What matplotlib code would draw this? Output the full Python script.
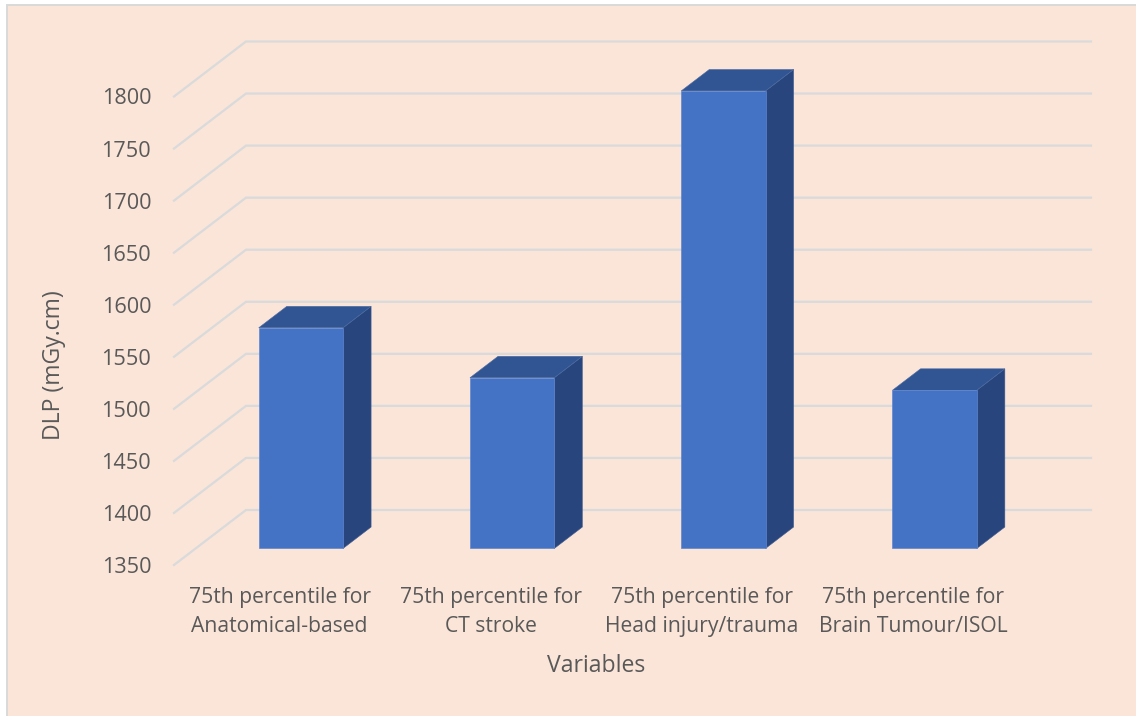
import matplotlib
matplotlib.use("Agg")
import matplotlib.pyplot as plt
from matplotlib.patches import Rectangle

categories = ["75th percentile for\nAnatomical-based", "75th percentile for\nCT stroke",
              "75th percentile for\nHead injury/trauma", "75th percentile for\nBrain Tumour/ISOL"]
dlp_values = [1562, 1514, 1789.5, 1502]
y_ticks = [1350, 1400, 1450, 1500, 1550, 1600, 1650, 1700, 1750, 1800]

W, H = 1136, 716
TEXT = "#595959"
GRID = "#D9DADB"

plt.rcParams["font.family"] = ["Open Sans", "DejaVu Sans"]

fig = plt.figure(figsize=(W / 100, H / 100), dpi=100, facecolor="white")
fig.add_artist(Rectangle((7 / W, -0.01), 1.01, 1 - 5 / H + 0.01, transform=fig.transFigure,
                         facecolor="#FBE5D8", edgecolor="#D9D9D9", linewidth=1.4, zorder=-1))

# axes = front plane of the fake 3d box
ax = fig.add_axes([174 / W, 1 - 565 / H, 845 / W, 468.5 / H])
ax.set_xlim(-0.5, 3.5)
ax.set_ylim(1350, 1800)
ax.patch.set_alpha(0)
for s in ax.spines.values():
    s.set_visible(False)

dx = 72 / 211.25   # full depth in x data units
dy = 55 / 1.041    # full depth in y data units
d_front, d_back = 0.295, 0.685
bar_w = 0.399


def proj(x, v, d):
    return x + d * dx, v + d * dy


# gridlines: diagonal on the left wall then along the back wall
for v in y_ticks:
    pts = [proj(-0.5, v, 0), proj(-0.5, v, 1), proj(3.5, v, 1)]
    ax.plot([p[0] for p in pts], [p[1] for p in pts], color=GRID, lw=1.6,
            clip_on=False, zorder=1, solid_joinstyle="miter")

xs = list(range(len(dlp_values)))
x_front = [x + d_front * dx for x in xs]
base = 1350 + 0.3 * dy
ax.bar(x_front, [v - 1350 for v in dlp_values], width=bar_w, bottom=base, color="#4472C4",
       edgecolor="#5F86CE", linewidth=0.5, clip_on=False, zorder=4)

for x, v in zip(xs, dlp_values):
    l, r = x - bar_w / 2, x + bar_w / 2
    # right side
    side = [proj(r, 1350, 0.3), proj(r, 1350, 0.69), proj(r, v, 0.69), proj(r, v, 0.3)]
    side = [(p[0] - 0.005 * dx, p[1]) for p in side]
    ax.fill([p[0] for p in side], [p[1] for p in side], facecolor="#28467D",
            edgecolor="#3F5C92", linewidth=0.4, clip_on=False, zorder=3)
    # top
    top = [proj(l, v, 0.3), proj(l, v, 0.69), proj(r, v, 0.69), proj(r, v, 0.3)]
    top = [(p[0] - 0.005 * dx, p[1]) for p in top]
    ax.fill([p[0] for p in top], [p[1] for p in top], facecolor="#315592",
            edgecolor="#4A6BA3", linewidth=0.4, clip_on=False, zorder=3)

ax.set_xticks(xs)
ax.set_xticklabels(categories, linespacing=1.52)
ax.set_yticks(y_ticks)
ax.tick_params(axis="x", length=0, pad=15.5, labelsize=15.2, labelcolor=TEXT)
ax.tick_params(axis="y", length=0, pad=16.5, labelsize=15.6, labelcolor=TEXT)

ax.set_xlabel("Variables", fontsize=16.6, color=TEXT)
ax.xaxis.set_label_coords(0.5, -(666 - 565) / 468.5, transform=ax.transAxes)
ax.xaxis.label.set_verticalalignment("center")
ax.set_ylabel("DLP (mGy.cm)", fontsize=16.6, color=TEXT)
ax.yaxis.set_label_coords(-(174 - 54) / 845, (565 - 365.5) / 468.5, transform=ax.transAxes)
ax.yaxis.label.set_verticalalignment("center")

fig.savefig("out.png", dpi=100, facecolor=fig.get_facecolor())
